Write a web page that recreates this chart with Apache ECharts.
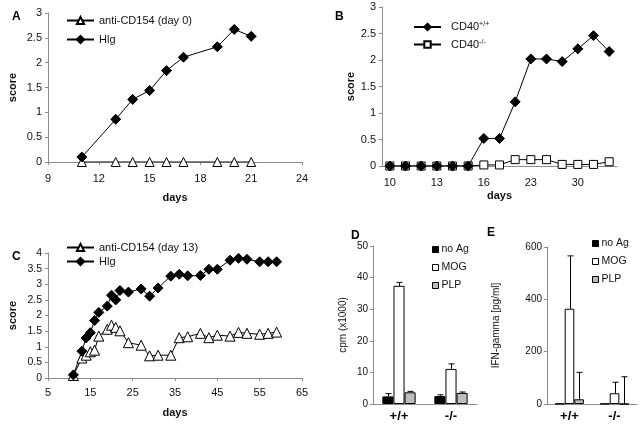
<!DOCTYPE html>
<html lang="en">
  <head>
    <meta charset="utf-8" />
    <style>
      html, body { margin: 0; width: 100%; height: 100%; background: #fff; }
      #container { width: 640px; height: 427px; }
    </style>
    <script src="https://cdn.jsdelivr.net/npm/echarts@6/dist/echarts.min.js"></script>
  </head>
  <body>
    <div id="container"></div>
    <script>
      // panel A
      var aDays = [11, 13, 14, 15, 16, 17, 19, 20, 21];
      var aAnti = [0, 0, 0, 0, 0, 0, 0, 0, 0];
      var aHlg = [0.1, 0.86, 1.26, 1.44, 1.84, 2.11, 2.32, 2.67, 2.53];
      var aTicks = [9, 12, 15, 18, 21, 24];

      // panel B
      var bDays = ["10", "11", "12", "13", "14", "15", "16", "18", "21", "23", "25", "28", "30", "32", "34"];
      var bWild = [0, 0, 0, 0, 0, 0, 0.52, 0.52, 1.21, 2.02, 2.02, 1.97, 2.21, 2.46, 2.16];
      var bKnock = [0, 0, 0, 0, 0, 0, 0.02, 0.02, 0.12, 0.12, 0.12, 0.03, 0.03, 0.03, 0.08];

      // panel C
      var cDays = [11, 13, 14, 15, 16, 17, 19, 20, 21, 22, 24, 27, 29, 31, 34, 36, 38, 41, 43, 45, 48, 50, 52, 55, 57, 59];
      var cAnti = [0.08, 0.64, 0.73, 0.84, 0.89, 1.34, 1.56, 1.69, 1.62, 1.51, 1.13, 1.05, 0.71, 0.73, 0.73, 1.29, 1.32, 1.43, 1.29, 1.37, 1.34, 1.46, 1.43, 1.4, 1.43, 1.47];
      var cHlg = [0.1, 0.86, 1.28, 1.45, 1.84, 2.1, 2.3, 2.65, 2.5, 2.8, 2.75, 2.85, 2.62, 2.88, 3.26, 3.32, 3.27, 3.28, 3.48, 3.48, 3.77, 3.83, 3.8, 3.72, 3.72, 3.72];
      var cTicks = [5, 15, 25, 35, 45, 55, 65];

      // panels D and E
      var genotypes = ["+/+", "-/-"];
      var antigens = ["no Ag", "MOG", "PLP"];
      var dMean = [[2.4, 2.5], [37.4, 11.1], [3.7, 3.5]];
      var dErr = [[0.9, 0.4], [1.1, 1.6], [0.3, 0.3]];
      var eMean = [[1, 1], [364, 41], [18, 0]];
      var eErr = [[0, 0], [202, 42], [103, 104]];

      (function () {
        var chart = echarts.init(document.querySelector("#container"));
        var font = "Liberation Sans, Arial, sans-serif";
        var axisGray = "#8c8c8c";
        var barFills = ["#000", "#fff", "#bdbdbd"];
        var catGap = 0.36;

        function pairs(xs, ys) {
          return xs.map(function (x, i) { return [x, ys[i]]; });
        }

        function valueX(idx, min, max, ticks, margin, gap) {
          return {
            type: "value", gridIndex: idx, min: min, max: max,
            name: "days", nameLocation: "middle", nameGap: gap,
            nameTextStyle: { fontFamily: font, fontWeight: "bold", fontSize: 11, color: "#111" },
            axisLine: { lineStyle: { color: axisGray } },
            axisTick: { length: 3, customValues: ticks, lineStyle: { color: axisGray } },
            axisLabel: { customValues: ticks, margin: margin, fontFamily: font, fontSize: 11, color: "#111" },
            splitLine: { show: false }
          };
        }

        function scoreY(idx, max, gap, size) {
          return {
            type: "value", gridIndex: idx, min: 0, max: max, interval: 0.5,
            name: "score", nameLocation: "middle", nameGap: gap,
            nameTextStyle: { fontFamily: font, fontWeight: "bold", fontSize: 11, color: "#111" },
            axisLine: { show: true, lineStyle: { color: axisGray } },
            axisTick: { show: true, length: 3, lineStyle: { color: axisGray } },
            axisLabel: { margin: 6, fontFamily: font, fontSize: size, color: "#111" },
            splitLine: { show: false }
          };
        }

        // open markers: white fill, black outline
        function lineSeries(name, idx, data, symbol, size, open, z) {
          return {
            type: "line", name: name, xAxisIndex: idx, yAxisIndex: idx, data: data,
            symbol: symbol, symbolSize: size, showAllSymbol: true, z: z || 2,
            lineStyle: { color: "#000", width: 1 },
            itemStyle: { color: open ? "#fff" : "#000", borderColor: "#000", borderWidth: 1 },
            animation: false
          };
        }

        function barSeries(idx, means) {
          return antigens.map(function (name, k) {
            return {
              type: "bar", name: name, xAxisIndex: idx, yAxisIndex: idx, data: means[k],
              barGap: "0%", barCategoryGap: catGap * 100 + "%",
              itemStyle: { color: barFills[k], borderColor: "#000", borderWidth: 1 },
              animation: false
            };
          });
        }

        // upward error whiskers, offset to sit on the matching bar of the group
        function errSeries(idx, means, errs) {
          return antigens.map(function (name, k) {
            return {
              type: "custom", xAxisIndex: idx, yAxisIndex: idx, z: 5, animation: false,
              data: means[k].map(function (m, i) { return [i, m, errs[k][i]]; }),
              renderItem: function (params, api) {
                var err = api.value(2);
                if (!err) return null;
                var base = api.coord([api.value(0), api.value(1)]);
                var top = api.coord([api.value(0), api.value(1) + err]);
                var band = api.size([1, 0])[0];
                var bw = band * (1 - catGap) / 3;
                var x = Math.round(base[0] + (k - 1) * bw) + 0.5;
                var st = { stroke: "#000", lineWidth: 1 };
                return {
                  type: "group",
                  children: [
                    { type: "line", shape: { x1: x, y1: base[1], x2: x, y2: top[1] }, style: st },
                    { type: "line", shape: { x1: x - 3, y1: top[1], x2: x + 3, y2: top[1] }, style: st }
                  ]
                };
              }
            };
          });
        }

        function catX(idx) {
          return {
            type: "category", gridIndex: idx, data: genotypes,
            axisLine: { lineStyle: { color: axisGray } },
            axisTick: { length: 3, lineStyle: { color: axisGray } },
            axisLabel: { margin: 6, fontFamily: font, fontWeight: "bold", fontSize: 13, color: "#000" }
          };
        }

        function barY(idx, max, interval, name, gap) {
          return {
            type: "value", gridIndex: idx, min: 0, max: max, interval: interval,
            name: name, nameLocation: "middle", nameGap: gap,
            nameTextStyle: { fontFamily: font, fontSize: 10, color: "#111" },
            axisLine: { show: true, lineStyle: { color: axisGray } },
            axisTick: { show: true, length: 3, lineStyle: { color: axisGray } },
            axisLabel: { margin: 5, fontFamily: font, fontSize: 10, color: "#111" },
            splitLine: { show: false }
          };
        }

        function lineLegend(names, left, top, gap) {
          return {
            data: names, orient: "vertical", left: left, top: top, itemGap: gap,
            itemWidth: 27, itemHeight: 9, selectedMode: false,
            textStyle: { fontFamily: font, fontSize: 11, color: "#111" }
          };
        }

        function boxLegend(left, top) {
          return {
            data: antigens.map(function (n, k) {
              return { name: n, icon: "rect", itemStyle: { color: barFills[k], borderColor: "#000", borderWidth: 1 } };
            }),
            orient: "vertical", left: left, top: top, itemGap: 7,
            itemWidth: 6, itemHeight: 6, selectedMode: false,
            textStyle: { fontFamily: font, fontSize: 10.5, color: "#111", padding: [0, 0, 0, -2] }
          };
        }

        var letter = function (t, x, y) {
          return { text: t, left: x, top: y, textStyle: { fontFamily: font, fontWeight: "bold", fontSize: 12, color: "#000" } };
        };

        var bX = {
          type: "category", gridIndex: 1, data: bDays,
          name: "days", nameLocation: "middle", nameGap: 24,
          nameTextStyle: { fontFamily: font, fontWeight: "bold", fontSize: 11, color: "#111" },
          axisLine: { lineStyle: { color: axisGray } },
          axisTick: { show: false },
          axisLabel: { interval: 2, margin: 11, fontFamily: font, fontSize: 11, color: "#111" }
        };

        var option = {
          backgroundColor: "#fff",
          title: [letter("A", 7, 6), letter("B", 330, 6), letter("C", 7, 246), letter("D", 346, 225), letter("E", 482, 222)],
          grid: [
            { left: 48, top: 13, width: 254, height: 149 },
            { left: 382, top: 7, width: 235, height: 159 },
            { left: 48, top: 253, width: 254, height: 125 },
            { left: 373, top: 246, width: 104, height: 158 },
            { left: 547, top: 247, width: 90, height: 157 }
          ],
          legend: [
            lineLegend(["anti-CD154 (day 0)", "Hlg"], 61, 10, 8),
            {
              data: ["CD40+/+", "CD40-/-"], orient: "vertical", left: 408, top: 16, itemGap: 6,
              itemWidth: 27, itemHeight: 8, selectedMode: false,
              formatter: function (n) { return "{a|" + n.slice(0, 4) + "}{s|" + n.slice(4) + "}"; },
              textStyle: {
                fontFamily: font, color: "#111",
                rich: {
                  a: { fontFamily: font, fontSize: 11, color: "#111", padding: [0, 0, 0, 5] },
                  s: { fontFamily: font, fontSize: 7, color: "#111", verticalAlign: "top", padding: [0, 0, 5, 0] }
                }
              }
            },
            lineLegend(["anti-CD154 (day 13)", "Hlg"], 61, 237, 3),
            boxLegend(427, 239),
            boxLegend(587, 233)
          ],
          xAxis: [valueX(0, 9, 24, aTicks, 11, 30), bX, valueX(2, 5, 65, cTicks, 9, 29), catX(3), catX(4)],
          yAxis: [
            scoreY(0, 3, 30, 11), scoreY(1, 3, 23, 11), scoreY(2, 4, 30, 10.5),
            barY(3, 50, 10, "cpm (x1000)", 25),
            barY(4, 600, 200, "IFN-gamma [pg/ml]", 46)
          ],
          series: [
            lineSeries("anti-CD154 (day 0)", 0, pairs(aDays, aAnti), "triangle", 9, true),
            lineSeries("Hlg", 0, pairs(aDays, aHlg), "diamond", 10, false),
            lineSeries("CD40-/-", 1, bKnock, "rect", 8, true, 2),
            lineSeries("CD40+/+", 1, bWild, "diamond", 10, false, 3),
            lineSeries("anti-CD154 (day 13)", 2, pairs(cDays, cAnti), "triangle", 10, true),
            lineSeries("Hlg", 2, pairs(cDays, cHlg), "diamond", 10, false)
          ]
            .concat(barSeries(3, dMean))
            .concat(errSeries(3, dMean, dErr))
            .concat(barSeries(4, eMean))
            .concat(errSeries(4, eMean, eErr))
        };
        chart.setOption(option);
      })();
    </script>
  </body>
</html>
